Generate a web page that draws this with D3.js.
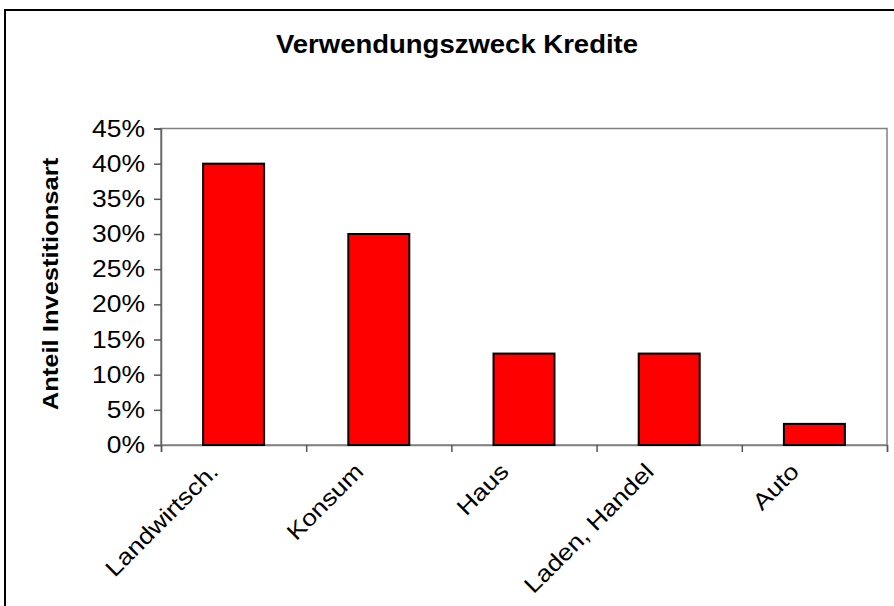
<!DOCTYPE html>
<meta charset="utf-8">
<script src="https://d3js.org/d3.v7.min.js"></script>
<style>
    body { margin: 0; background: #fff; }
    text { font-family: Arial, "Liberation Sans", sans-serif; fill: #000; }
</style>
<div id="my_dataviz"></div>
<script>

    // data
    var categories = ["Landwirtsch.", "Konsum", "Haus", "Laden, Handel", "Auto"];
    var shares = [40, 30, 13, 13, 3];
    var yTicks = [0, 5, 10, 15, 20, 25, 30, 35, 40, 45];
    var chartTitle = "Verwendungszweck Kredite";
    var yTitle = "Anteil Investitionsart";

    var W = 894, H = 606;
    var margin = {top: 128.5, right: 7, bottom: 161, left: 161},
        width = W - margin.left - margin.right,
        height = H - margin.top - margin.bottom;

    var svg = d3.select("#my_dataviz")
        .append("svg")
        .attr("width", W)
        .attr("height", H);

    // outer chart frame (runs off the right / bottom edge)
    svg.append("rect")
        .attr("x", 5).attr("y", 10)
        .attr("width", 900).attr("height", 610)
        .attr("fill", "#fff")
        .attr("stroke", "#000")
        .attr("stroke-width", 2);

    svg.append("text")
        .attr("transform", "translate(457,53) scale(1.1,1)")
        .attr("text-anchor", "middle")
        .style("font-size", "25px")
        .style("font-weight", "bold")
        .text(chartTitle);

    var g = svg.append("g")
        .attr("transform", "translate(" + margin.left + "," + margin.top + ")");

    var x = d3.scaleBand()
        .domain(categories)
        .range([0, width])
        .paddingInner(0.58)
        .paddingOuter(0.29);

    // boundary ticks between categories
    var xEdge = d3.scaleLinear()
        .domain([0, categories.length])
        .range([0, width]);

    var y = d3.scaleLinear()
        .domain([0, 45])
        .range([height, 0]);

    // plot frame
    g.append("rect")
        .attr("width", width)
        .attr("height", height)
        .attr("fill", "#fff")
        .attr("stroke", "#808080")
        .attr("stroke-width", 1.5);

    // y axis
    var yAxis = g.append("g")
        .call(d3.axisLeft(y).tickValues(yTicks).tickSize(7).tickPadding(9)
            .tickFormat(function (d) { return d + "%"; }));
    yAxis.select(".domain").attr("stroke", "#666").attr("stroke-width", 1.5);
    yAxis.selectAll(".tick line").attr("stroke", "#555").attr("stroke-width", 1.5);
    yAxis.selectAll(".tick text")
        .attr("x", null).attr("dy", null)
        .attr("transform", "translate(-16,7.5) scale(1.15,1)")
        .style("font-size", "23px")
        .style("font-family", "Arial, 'Liberation Sans', sans-serif");

    // x axis
    var xAxis = g.append("g")
        .attr("transform", "translate(0," + height + ")")
        .call(d3.axisBottom(xEdge).ticks(categories.length).tickSize(7).tickFormat(""));
    xAxis.select(".domain").attr("stroke", "#808080").attr("stroke-width", 1.5);
    xAxis.selectAll(".tick line").attr("stroke", "#555").attr("stroke-width", 1.5);

    // rotated category labels
    g.append("g")
        .selectAll("text")
        .data(categories)
        .enter()
        .append("text")
        .attr("text-anchor", "end")
        .attr("transform", function (d) {
            return "translate(" + (x(d) + x.bandwidth() / 2 - 14) + "," + (height + 28) + ") rotate(-45) scale(1.15,1)";
        })
        .style("font-size", "23px")
        .text(function (d) { return d; });

    // bars
    g.append("g")
        .selectAll("rect")
        .data(shares)
        .enter()
        .append("rect")
        .attr("x", function (d, i) { return x(categories[i]); })
        .attr("y", function (d) { return y(d); })
        .attr("width", x.bandwidth())
        .attr("height", function (d) { return height - y(d); })
        .attr("fill", "#ff0000")
        .attr("stroke", "#000")
        .attr("stroke-width", 2);

    // y axis title
    svg.append("text")
        .attr("transform", "translate(58,284) rotate(-90) scale(1.16,1)")
        .attr("text-anchor", "middle")
        .style("font-size", "22px")
        .style("font-weight", "bold")
        .text(yTitle);

</script>
